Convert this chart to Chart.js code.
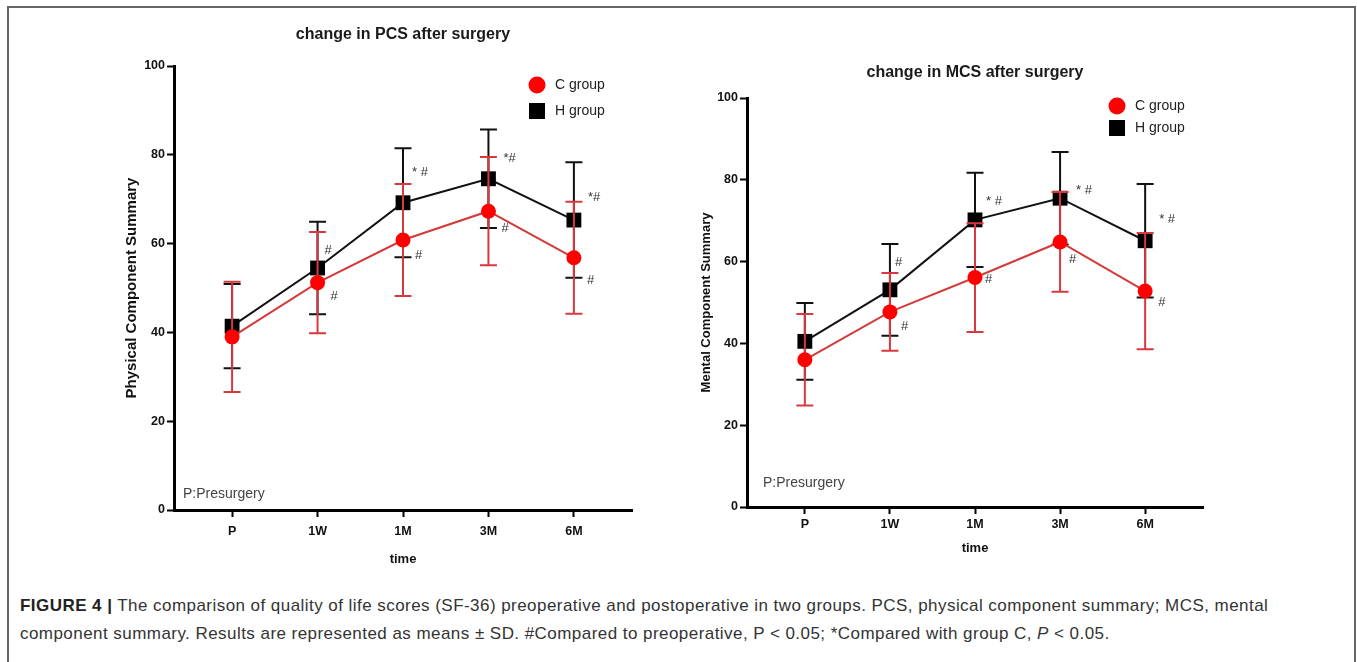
<!DOCTYPE html>
<html>
<head>
<meta charset="utf-8">
<script src="https://cdn.jsdelivr.net/npm/chart.js@4.4.1/dist/chart.umd.min.js"></script>
<style>
html,body{margin:0;padding:0;background:#fff;width:1357px;height:662px;overflow:hidden;}
#frame{position:absolute;left:7px;top:6px;width:1349px;height:720px;border:2px solid #666;box-sizing:border-box;}
#c1{position:absolute;left:0;top:0;}
#c2{position:absolute;left:680px;top:0;}
#caption{position:absolute;left:20px;top:592px;font-family:"Liberation Sans",Arial,sans-serif;font-size:17px;letter-spacing:0.45px;line-height:28px;color:#333;white-space:nowrap;}
#caption b{color:#222;}
</style>
</head>
<body>
<div id="frame"></div>
<canvas id="c1" width="680" height="580" style="width:680px;height:580px"></canvas>
<canvas id="c2" width="677" height="580" style="width:677px;height:580px"></canvas>
<div id="caption"><b>FIGURE 4 |</b> The comparison of quality of life scores (SF-36) preoperative and postoperative in two groups. PCS, physical component summary; MCS, mental<br>component summary. Results are represented as means ± SD. #Compared to preoperative, P &lt; 0.05; *Compared with group C, <i>P</i> &lt; 0.05.</div>
<script>
// ---- data ----
const timeLabels = ['P', '1W', '1M', '3M', '6M'];
const yTicks = [0, 20, 40, 60, 80, 100];
const groupLabels = ['C group', 'H group'];

const pcsC   = [39.0, 51.2, 60.8, 67.3, 56.8];
const pcsCsd = [12.4, 11.4, 12.6, 12.2, 12.6];
const pcsH   = [41.4, 54.5, 69.2, 74.6, 65.3];
const pcsHsd = [9.5, 10.4, 12.3, 11.1, 13.0];

const mcsC   = [36.0, 47.7, 56.1, 64.8, 52.8];
const mcsCsd = [11.2, 9.5, 13.3, 12.2, 14.2];
const mcsH   = [40.5, 53.1, 70.2, 75.5, 65.1];
const mcsHsd = [9.4, 11.2, 11.5, 11.3, 13.9];

const pcsMarksC = ['', '#', '#', '#', '#'];
const pcsMarksH = ['', '#', '* #', '*#', '*#'];
const mcsMarksC = ['', '#', '#', '#', '#'];
const mcsMarksH = ['', '#', '* #', '* #', '* #'];

const FONT = '"Liberation Sans", Arial, sans-serif';

// ---- plugins ----
const errorBars = {
  id: 'errorBars',
  beforeDatasetDraw(chart, args) {
    const ds = chart.data.datasets[args.index];
    if (!ds.sd) return;
    const ys = chart.scales.y;
    const ctx = chart.ctx;
    const cap = 8.5;
    ctx.save();
    ctx.strokeStyle = ds.errorColor;
    ctx.lineWidth = 2;
    args.meta.data.forEach((pt, i) => {
      const v = ds.data[i].y, s = ds.sd[i];
      const x = pt.x;
      const yt = ys.getPixelForValue(v + s);
      const yb = ys.getPixelForValue(v - s);
      ctx.beginPath();
      ctx.moveTo(x, yt); ctx.lineTo(x, yb);
      ctx.moveTo(x - cap, yt); ctx.lineTo(x + cap, yt);
      ctx.moveTo(x - cap, yb); ctx.lineTo(x + cap, yb);
      ctx.stroke();
    });
    ctx.restore();
  }
};

const overlay = {
  id: 'overlay',
  afterDraw(chart, args, o) {
    const ctx = chart.ctx;
    const ca = chart.chartArea;
    ctx.save();
    // title
    ctx.fillStyle = '#1a1a1a';
    ctx.font = 'bold 16px ' + FONT;
    ctx.textAlign = 'center';
    ctx.textBaseline = 'middle';
    ctx.fillText(o.title, (ca.left + ca.right) / 2, o.titleY);
    // legend
    const ds = chart.data.datasets;
    ctx.textAlign = 'left';
    ctx.font = '14px ' + FONT;
    ds.forEach((d, i) => {
      const y = o.legendY[i];
      ctx.fillStyle = d.pointBackgroundColor;
      if (d.pointStyle === 'circle') {
        ctx.beginPath(); ctx.arc(o.legendX, y, 8.5, 0, Math.PI * 2); ctx.fill();
      } else {
        ctx.fillRect(o.legendX - 8, y - 8, 16, 16);
      }
      ctx.fillStyle = '#222';
      ctx.fillText(d.label, o.legendX + 18, y);
    });
    // note
    ctx.fillStyle = '#444';
    ctx.font = '14px ' + FONT;
    ctx.fillText(o.note, o.noteX, o.noteY);
    // significance marks
    ctx.font = '13px ' + FONT;
    ctx.fillStyle = '#333';
    o.marks.forEach(m => {
      const meta = chart.getDatasetMeta(m.ds);
      m.texts.forEach((t, i) => {
        if (!t) return;
        const p = meta.data[i];
        ctx.fillText(t, p.x + m.off[i][0], p.y + m.off[i][1]);
      });
    });
    ctx.restore();
  }
};

function pts(vals) { return vals.map((v, i) => ({ x: i, y: v })); }

function makeChart(id, cfg) {
  const tickFont = { family: FONT, size: 12.5, weight: 'bold' };
  return new Chart(document.getElementById(id), {
    type: 'line',
    data: {
      datasets: [
        {
          label: groupLabels[0], data: pts(cfg.c), sd: cfg.csd,
          borderColor: '#d33b3b', borderWidth: 2, errorColor: '#d8393f',
          pointStyle: 'circle', pointRadius: 7.5, pointBorderWidth: 0,
          pointBackgroundColor: '#ff0000', pointBorderColor: '#ff0000', tension: 0
        },
        {
          label: groupLabels[1], data: pts(cfg.h), sd: cfg.hsd,
          borderColor: '#111', borderWidth: 2, errorColor: '#111',
          pointStyle: 'rect', pointRadius: 10.5, pointBorderWidth: 0,
          pointBackgroundColor: '#000', pointBorderColor: '#000', tension: 0
        }
      ]
    },
    options: {
      responsive: false, animation: false, events: [],
      layout: { padding: cfg.padding },
      plugins: {
        legend: { display: false }, tooltip: { enabled: false }, title: { display: false },
        overlay: cfg.overlay
      },
      scales: {
        x: {
          type: 'linear', min: -0.68, max: 4.68,
          afterBuildTicks: s => { s.ticks = timeLabels.map((_, i) => ({ value: i })); },
          afterFit: s => { s.height = 60; },
          ticks: { callback: v => timeLabels[v], font: tickFont, color: '#111', padding: cfg.xTickPad, maxRotation: 0, autoSkip: false },
          grid: { display: true, drawOnChartArea: false, drawTicks: true, tickLength: 7, tickWidth: 2, tickColor: '#000' },
          border: { display: true, color: '#000', width: 3 },
          title: { display: true, text: 'time', color: '#111', font: { family: FONT, size: 13, weight: 'bold' }, padding: { top: 0, bottom: cfg.xTitlePad } }
        },
        y: {
          type: 'linear', min: 0, max: 100,
          afterBuildTicks: s => { s.ticks = yTicks.map(v => ({ value: v })); },
          afterFit: s => { s.width = cfg.yWidth; },
          ticks: { font: tickFont, color: '#111', padding: 2 },
          grid: { display: true, drawOnChartArea: false, drawTicks: true, tickLength: 7, tickWidth: 2, tickColor: '#000' },
          border: { display: true, color: '#000', width: 3 },
          title: { display: true, text: cfg.yTitle, color: '#111', font: { family: FONT, size: cfg.yTitleSize, weight: 'bold' }, padding: { top: cfg.yTitlePad, bottom: 0 } }
        }
      }
    },
    plugins: [errorBars, overlay]
  });
}

makeChart('c1', {
  c: pcsC, csd: pcsCsd, h: pcsH, hsd: pcsHsd,
  padding: { left: 115, top: 66, right: 48, bottom: 10 },
  yWidth: 59, yTitle: 'Physical Component Summary', yTitleSize: 15, yTitlePad: 8,
  xTickPad: 7, xTitlePad: 3,
  overlay: {
    title: 'change in PCS after surgery', titleY: 35,
    legendX: 537, legendY: [85, 111],
    note: 'P:Presurgery', noteX: 183, noteY: 494,
    marks: [
      { ds: 1, texts: pcsMarksH, off: [[0,0],[7,-18],[9,-30],[15,-20],[14,-23]] },
      { ds: 0, texts: pcsMarksC, off: [[0,0],[13,14],[12,15],[13,17],[13,23]] }
    ]
  }
});

makeChart('c2', {
  c: mcsC, csd: mcsCsd, h: mcsH, hsd: mcsHsd,
  padding: { left: 12, top: 98, right: 154, bottom: 13 },
  yWidth: 55, yTitle: 'Mental Component Summary', yTitleSize: 13, yTitlePad: 7,
  xTickPad: 3, xTitlePad: 11,
  overlay: {
    title: 'change in MCS after surgery', titleY: 73,
    legendX: 437, legendY: [106, 128],
    note: 'P:Presurgery', noteX: 83, noteY: 483,
    marks: [
      { ds: 1, texts: mcsMarksH, off: [[0,0],[5,-27],[11,-18],[16,-8],[14,-21]] },
      { ds: 0, texts: mcsMarksC, off: [[0,0],[11,15],[10,2],[9,17],[13,11]] }
    ]
  }
});
</script>
</body>
</html>
